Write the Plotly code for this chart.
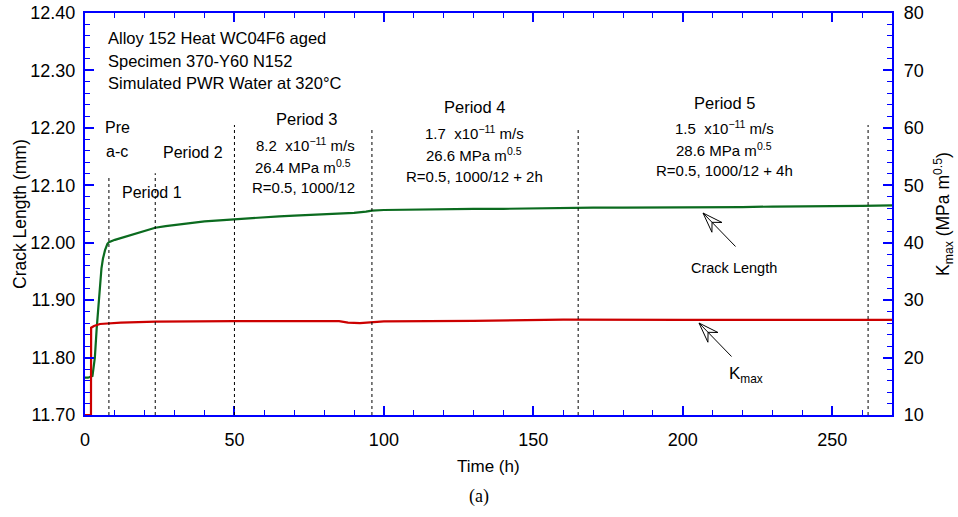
import math
import plotly.graph_objects as go

# ---------------- data ----------------
crack_t = [0, 1, 2.5, 3.3, 3.9, 4.5, 5, 5.5, 6, 6.7, 7.5, 8, 10, 12, 15, 18, 21, 23.5, 27, 30,
           35, 40, 45, 50, 55, 60, 65, 70, 75, 80, 85, 90, 94, 96, 100, 110, 120, 130, 140,
           150, 160, 170, 180, 190, 200, 210, 220, 230, 240, 250, 260, 270]
crack_a = [11.765, 11.765, 11.768, 11.800, 11.850, 11.890, 11.930, 11.955, 11.972, 11.987,
           11.998, 12.001, 12.005, 12.008, 12.012, 12.017, 12.022, 12.026, 12.029, 12.031,
           12.034, 12.037, 12.039, 12.041, 12.043, 12.045, 12.046, 12.047, 12.048, 12.049,
           12.051, 12.052, 12.054, 12.056, 12.057, 12.058, 12.058, 12.059, 12.059, 12.060,
           12.060, 12.061, 12.061, 12.061, 12.062, 12.062, 12.062, 12.063, 12.063, 12.064,
           12.064, 12.065]

kmax_t = [0, 2, 2.05, 3, 5, 8.3, 12, 23.7, 50, 85, 88, 92, 96, 100, 130, 160, 200, 270]
kmax_k = [10, 10, 25.2, 25.5, 25.85, 26.0, 26.1, 26.25, 26.35, 26.35, 26.1, 26.0, 26.1,
          26.3, 26.4, 26.6, 26.55, 26.55]

period_bounds = [8, 23.5, 50, 96, 165, 262]
period_tops = [12.113, 12.121, 12.205, 12.198, 12.200, 12.205]

x_ticks = [0, 50, 100, 150, 200, 250]

# ---------------- geometry helpers (layout only) ----------------
L, R, T, B = 85, 892, 13, 415
W, H = 958, 517


def px(x):
    return (x - L) / (R - L)


def py(y):
    return (B - y) / (B - T)


FONT = "Liberation Sans, Arial, sans-serif"
BLUE = "#0000ff"

fig = go.Figure()

fig.add_trace(go.Scatter(x=crack_t, y=crack_a, mode="lines",
                         line=dict(color="#0b6b1f", width=2.2), yaxis="y",
                         showlegend=False))
fig.add_trace(go.Scatter(x=kmax_t, y=kmax_k, mode="lines",
                         line=dict(color="#cc0000", width=2.2), yaxis="y2",
                         showlegend=False))

for xb, yt in zip(period_bounds, period_tops):
    fig.add_shape(type="line", xref="x", yref="y", x0=xb, x1=xb, y0=11.70, y1=yt,
                  line=dict(color="black", width=1, dash="3px,3px"))

ann = []


def text(x, y, s, size=15, anchor="center", angle=0, family=FONT):
    ann.append(dict(x=px(x), y=py(y), xref="paper", yref="paper", text=s,
                    showarrow=False, xanchor=anchor, yanchor="middle",
                    textangle=angle,
                    font=dict(family=family, size=size, color="black")))


text(106, 38, "Alloy 152 Heat WC04F6 aged", 16.5, "left")
text(106, 61, "Specimen 370-Y60 N152", 16.5, "left")
text(106, 83, "Simulated PWR Water at 320°C", 16.5, "left")

text(117, 128, "Pre", 16)
text(117, 151, "a-c", 16)
text(152, 192, "Period 1", 16)
text(193, 152, "Period 2", 16)

text(306, 119, "Period 3", 16.5)
text(305, 144, "8.2  x10<sup>−11</sup> m/s", 15)
text(303, 166, "26.4 MPa m<sup>0.5</sup>", 15)
text(303, 187, "R=0.5, 1000/12", 15)

text(474, 107, "Period 4", 16.5)
text(474, 132, "1.7  x10<sup>−11</sup> m/s", 15)
text(474, 154, "26.6 MPa m<sup>0.5</sup>", 15)
text(474, 176, "R=0.5, 1000/12 + 2h", 15)

text(724, 103, "Period 5", 16.5)
text(724, 128, "1.5  x10<sup>−11</sup> m/s", 15)
text(724, 150, "28.6 MPa m<sup>0.5</sup>", 15)
text(724, 170, "R=0.5, 1000/12 + 4h", 15)

text(734, 268, "Crack Length", 14.5)
text(746, 375, "K<sub>max</sub>", 17)

# axis titles and caption
text(488, 466, "Time (h)", 17)
text(479, 496, "(a)", 18, family="Liberation Serif, Times New Roman, serif")
text(20, 214, "Crack Length (mm)", 17.5, angle=-90)
text(943, 214, "K<sub>max</sub> (MPa m<sup>0.5</sup>)", 17.5, angle=-90)

# arrows: shaft lines from tail to tip (pixel coords)
arrows = [((737, 248), (703, 213)), ((733, 358), (699, 323))]
for (tx, ty), (hx, hy) in arrows:
    ann.append(dict(x=px(hx), y=py(hy), xref="paper", yref="paper",
                    ax=tx - hx, ay=ty - hy,
                    showarrow=True, arrowhead=0, arrowwidth=1, arrowcolor="black",
                    text=""))
    dx, dy = tx - hx, ty - hy
    d = math.hypot(dx, dy)
    ux, uy = dx / d, dy / d
    nx, ny = -uy, ux
    Lh, Wh, Nh = 20, 7, 13
    p1 = (hx + ux * Lh + nx * Wh, hy + uy * Lh + ny * Wh)
    p2 = (hx + ux * Nh, hy + uy * Nh)
    p3 = (hx + ux * Lh - nx * Wh, hy + uy * Lh - ny * Wh)
    pts = [(hx, hy), p1, p2, p3]
    path = "M " + " L ".join(f"{px(a):.5f},{py(b):.5f}" for a, b in pts) + " Z"
    fig.add_shape(type="path", xref="paper", yref="paper", path=path,
                  line=dict(color="black", width=1), fillcolor="white")

TICKFONT = dict(family=FONT, size=18, color="black")

fig.update_layout(
    width=W, height=H,
    margin=dict(l=L, r=W - R, t=T, b=H - B, autoexpand=False),
    paper_bgcolor="white", plot_bgcolor="white",
    annotations=ann,
    xaxis=dict(range=[0, 270], tickvals=x_ticks, ticks="inside", ticklen=9,
               tickcolor=BLUE, tickwidth=1.5, showline=True, linecolor=BLUE,
               linewidth=2.2, mirror="ticks", showgrid=False, zeroline=False,
               tickfont=TICKFONT, automargin=False,
               ticklabelstandoff=7,
               minor=dict(dtick=10, ticks="inside", ticklen=5, tickcolor=BLUE,
                          tickwidth=1.2, showgrid=False)),
    yaxis=dict(range=[11.70, 12.40], dtick=0.1, tick0=11.7, tickformat=".2f",
               ticks="inside", ticklen=9, tickcolor=BLUE, tickwidth=1.5,
               showline=True, linecolor=BLUE, linewidth=2.2, showgrid=False,
               zeroline=False, tickfont=TICKFONT, automargin=False,
               ticklabelstandoff=4,
               minor=dict(dtick=0.02, ticks="inside", ticklen=5, tickcolor=BLUE,
                          tickwidth=1.2, showgrid=False)),
    yaxis2=dict(range=[10, 80], dtick=10, tick0=10, overlaying="y", side="right",
                ticks="inside", ticklen=9, tickcolor=BLUE, tickwidth=1.5,
                showline=True, linecolor=BLUE, linewidth=2.2, showgrid=False,
                zeroline=False, tickfont=TICKFONT, automargin=False,
                ticklabelstandoff=6,
                minor=dict(dtick=2, ticks="inside", ticklen=5, tickcolor=BLUE,
                           tickwidth=1.2, showgrid=False)),
)

fig.write_html("out.html")
